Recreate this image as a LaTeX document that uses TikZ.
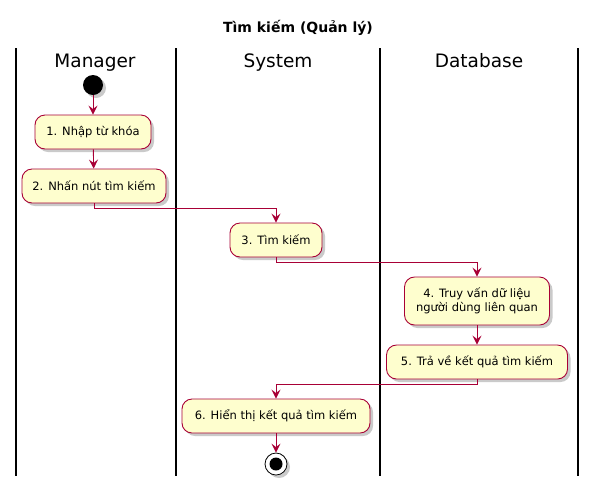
\documentclass[tikz,border=0pt]{standalone}
\usepackage{fontspec}
\setmainfont{DejaVu Sans}
\usetikzlibrary{arrows.meta,shadows}
\definecolor{umlred}{HTML}{A80036}
\definecolor{umlfill}{HTML}{FEFECE}
\tikzset{
	action/.style={draw=umlred, fill=umlfill, rounded corners=10pt, line width=0.9pt,
		minimum height=34pt, inner sep=0pt, align=center, font=\fontsize{11.5}{13.5}\selectfont,
		drop shadow={shadow xshift=3pt, shadow yshift=-3pt, fill=black!35, opacity=0.6}},
	flow/.style={draw=umlred, line width=0.9pt, -{Stealth[length=9pt,width=9pt,inset=3.5pt]}},
	lane/.style={draw=black, line width=1.3pt},
	lanehead/.style={anchor=base, font=\fontsize{18.5}{22}\selectfont}
}
\begin{document}
\begin{tikzpicture}[x=1pt, y=-1pt]
	\useasboundingbox (0,0) rectangle (596,491);

	% Tieu de
	\node[font=\bfseries\fontsize{14}{16}\selectfont] (title) at (298,28) {Tìm kiếm (Quản lý)};

	% Cac lan
	\foreach \x in {16,176,380,578}
		\draw[lane] (\x,48) -- (\x,476);
	\node[lanehead] (hmanager) at (95,67) {Manager};
	\node[lanehead] (hsystem) at (278,67) {System};
	\node[lanehead] (hdatabase) at (479,67) {Database};

	% Bat dau
	\node[circle, fill=black, minimum size=20pt, inner sep=0pt,
		drop shadow={shadow xshift=3pt, shadow yshift=-3pt, fill=black!35, opacity=0.6}] (start) at (93,85) {};

	% Cac buoc
	\node[action, minimum width=116pt] (nhap) at (93,132) {1. Nhập từ khóa};
	\node[action, minimum width=144pt] (nhan) at (94,186) {2. Nhấn nút tìm kiếm};
	\node[action, minimum width=92pt] (timkiem) at (276,240) {3. Tìm kiếm};
	\node[action, minimum width=145pt, minimum height=48pt] (truyvan) at (477,301) {4. Truy vấn dữ liệu\\người dùng liên quan};
	\node[action, minimum width=181pt] (travekq) at (477,362) {5. Trả về kết quả tìm kiếm};
	\node[action, minimum width=188pt] (hienthi) at (276,416) {6. Hiển thị kết quả tìm kiếm};

	% Ket thuc
	\node[circle, draw=black, fill=white, line width=0.8pt, minimum size=22pt, inner sep=0pt,
		drop shadow={shadow xshift=3pt, shadow yshift=-3pt, fill=black!35, opacity=0.6}] (stop) at (276,464) {};
	\node[circle, fill=black, minimum size=13pt, inner sep=0pt] (stopdot) at (stop) {};

	% Mui ten
	\draw[flow] (start) -- (nhap);
	\draw[flow] (nhap) -- (nhan);
	\draw[flow] (nhan.south) -- ++(0,5) -| (timkiem.north);
	\draw[flow] (timkiem.south) -- ++(0,5) -| (truyvan.north);
	\draw[flow] (truyvan) -- (travekq);
	\draw[flow] (travekq.south) -- ++(0,5) -| (hienthi.north);
	\draw[flow] (hienthi) -- (stop);
\end{tikzpicture}
\end{document}
